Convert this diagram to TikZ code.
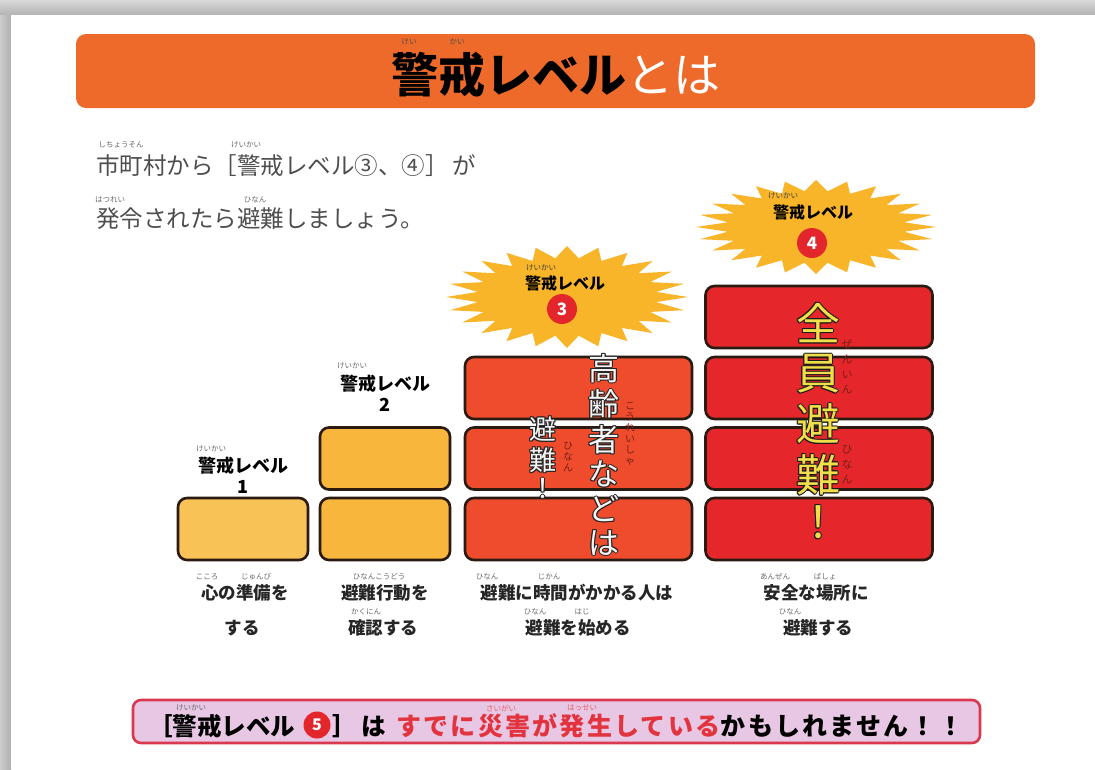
\documentclass[tikz,border=0pt]{standalone}
\usepackage{fontspec}
\setmainfont{Noto Sans CJK JP}
\definecolor{titleor}{HTML}{EE6A2B}
\definecolor{lvone}{HTML}{F9C257}
\definecolor{lvtwo}{HTML}{F8B63C}
\definecolor{lvthree}{HTML}{EE4C2D}
\definecolor{lvfour}{HTML}{E5272B}
\definecolor{boxline}{HTML}{2B1A12}
\definecolor{starc}{HTML}{F8B52A}
\definecolor{circred}{HTML}{E3262B}
\definecolor{bodygray}{HTML}{4E4E4E}
\definecolor{rubygray}{HTML}{6A6A6A}
\definecolor{bannerfill}{HTML}{E8C7E4}
\definecolor{bannerline}{HTML}{D9384E}
\definecolor{warnred}{HTML}{E2343F}
\definecolor{yel}{HTML}{F1DE4B}
\definecolor{rubyred}{HTML}{7A1E14}
\newcommand\olcopy[4]{\rlap{\hspace*{#1}\raisebox{#2}{\color{#3}#4}}}
\newcommand\outlined[3]{%
 \olcopy{1pt}{0pt}{#1}{#3}\olcopy{-1pt}{0pt}{#1}{#3}%
 \olcopy{0pt}{1pt}{#1}{#3}\olcopy{0pt}{-1pt}{#1}{#3}%
 \olcopy{.7pt}{.7pt}{#1}{#3}\olcopy{-.7pt}{.7pt}{#1}{#3}%
 \olcopy{.7pt}{-.7pt}{#1}{#3}\olcopy{-.7pt}{-.7pt}{#1}{#3}%
 {\color{#2}#3}}
% burst: cx cy rx-outer ry-outer rx-inner ry-inner
\newcommand\mkburst[6]{%
 \gdef\burstlist{}%
 \foreach \k in {0,...,47}{%
   \pgfmathsetmacro\bsel{(1+cos(\k*180))/2}%
   \pgfmathsetmacro\bx{#1+(#3*\bsel+#5*(1-\bsel))*cos(\k*7.5)}%
   \pgfmathsetmacro\by{#2+(#4*\bsel+#6*(1-\bsel))*sin(\k*7.5)}%
   \xdef\burstlist{\burstlist(\bx,\by)}}%
 \fill[starfill] plot coordinates {\burstlist} -- cycle;}
\tikzset{
  lvbox/.style={draw=boxline, line width=2.6pt, rounded corners=9pt, minimum height=62pt, inner sep=0pt},
  narrowbox/.style={lvbox, minimum width=130pt},
  widebox/.style={lvbox, minimum width=227pt},
  ruby/.style={font=\fontsize{7.5}{8}\selectfont, text=rubygray, inner sep=0pt},
  lvlabel/.style={font=\fontsize{18}{21}\selectfont\bfseries, align=center, inner sep=0pt},
  desc/.style={font=\fontsize{17.5}{20}\selectfont\bfseries, inner sep=0pt, text=black!85},
  bodytext/.style={font=\fontsize{23.5}{26}\selectfont, text=bodygray, inner sep=0pt, anchor=west},
  starfill/.style={fill=starc},
  numcirc/.style={circle, fill=circred, minimum size=30pt, inner sep=0pt, text=white, font=\fontsize{17}{18}\selectfont\bfseries},
  bantext/.style={font=\fontsize{24.5}{26}\selectfont\bfseries, inner sep=0pt, anchor=west},
  banwide/.style={font=\fontsize{25}{26}\selectfont\bfseries\addfontfeature{LetterSpace=9}, inner sep=0pt, anchor=west}
}
\begin{document}
\begin{tikzpicture}[x=1pt,y=-1pt]
\useasboundingbox (0,0) rectangle (1095,769);
% frame
\fill[gray!55] (0,0) rectangle (1095,769);
\shade[top color=gray!30, bottom color=gray!60] (0,0) rectangle (1095,15);
\shade[left color=gray!40, right color=gray!62] (0,15) rectangle (11,769);
\fill[white] (11,15) rectangle (1095,769);
% title
\node[fill=titleor, rounded corners=10pt, minimum width=959pt, minimum height=74pt, inner sep=0pt] (title) at (555.5,71) {};
\node[font=\fontsize{47}{50}\selectfont\bfseries, inner sep=0pt] (titletxt) at (556,75) {警戒レベル\textcolor{white}{\mdseries とは}};
\node[ruby, text=black!70] (rt1) at (409,42) {けい};
\node[ruby, text=black!70] (rt2) at (457,42) {かい};
% body text
\node[bodytext] (l1) at (96,166) {市町村から［警戒レベル③、④］\hspace{4pt}が};
\node[bodytext] (l2) at (96,219) {発令されたら避難しましょう。};
\node[ruby] (rb1) at (121,145) {しちょうそん};
\node[ruby] (rb2) at (246,145) {けいかい};
\node[ruby] (rb3) at (110,200) {はつれい};
\node[ruby] (rb4) at (255,200) {ひなん};
% stars
\coordinate (st3) at (567,297);
\coordinate (st4) at (816,227);
\mkburst{567}{297}{121}{51}{90}{39}
\mkburst{816}{227}{120}{47}{89}{36}
\node[font=\fontsize{16}{18}\selectfont\bfseries, inner sep=0pt] (s3t) at (565,283) {警戒レベル};
\node[numcirc] (c3) at (562,309) {3};
\node[ruby, text=black!75] (rs3) at (541,268) {けいかい};
\node[font=\fontsize{16}{18}\selectfont\bfseries, inner sep=0pt] (s4t) at (813,212) {警戒レベル};
\node[numcirc] (c4) at (812,243) {4};
\node[ruby, text=black!75] (rs4) at (783,196) {けいかい};
% level labels
\node[lvlabel] (lab1) at (243,475) {警戒レベル\\1};
\node[ruby] (rl1) at (211,449) {けいかい};
\node[lvlabel] (lab2) at (385,393) {警戒レベル\\2};
\node[ruby] (rl2) at (352,366) {けいかい};
% boxes
\node[narrowbox, fill=lvone] (b1a) at (243,529) {};
\node[narrowbox, fill=lvtwo] (b2a) at (385,529) {};
\node[narrowbox, fill=lvtwo] (b2b) at (385,458.5) {};
\node[widebox, fill=lvthree] (b3a) at (578.5,529) {};
\node[widebox, fill=lvthree] (b3b) at (578.5,458.5) {};
\node[widebox, fill=lvthree] (b3c) at (578.5,388) {};
\node[widebox, fill=lvfour] (b4a) at (819,529) {};
\node[widebox, fill=lvfour] (b4b) at (819,458.5) {};
\node[widebox, fill=lvfour] (b4c) at (819,388) {};
\node[widebox, fill=lvfour] (b4d) at (819,317) {};
% vertical texts
\node[inner sep=0pt, font=\fontsize{31}{32}\selectfont] (v3a) at (604,459)
  {\outlined{black!85}{white!92!gray}{\begin{tabular}{@{}c@{}}高\\齢\\者\\な\\ど\\は\end{tabular}}};
\node[inner sep=0pt, font=\fontsize{27}{28}\selectfont] (v3b) at (543,462)
  {\outlined{black!85}{white!92!gray}{\begin{tabular}{@{}c@{}}避\\難\\！\end{tabular}}};
\node[inner sep=0pt, font=\fontsize{10}{11}\selectfont, text=rubyred, align=center] (rv3a) at (630,434) {こ\\う\\れ\\い\\し\\ゃ};
\node[inner sep=0pt, font=\fontsize{10}{11}\selectfont, text=rubyred, align=center] (rv3b) at (568,457) {ひ\\な\\ん};
\node[inner sep=0pt, font=\fontsize{44}{46.5}\selectfont] (v4) at (818,428)
  {\outlined{black!90}{yel}{\begin{tabular}{@{}c@{}}全\\員\\避\\難\\！\end{tabular}}};
\node[inner sep=0pt, font=\fontsize{11}{15}\selectfont, text=rubyred, align=center] (rv4a) at (847,367) {ぜ\\ん\\い\\ん};
\node[inner sep=0pt, font=\fontsize{11}{15}\selectfont, text=rubyred, align=center] (rv4b) at (847,465) {ひ\\な\\ん};
% descriptions
\node[desc] (d1a) at (245,593) {心の準備を};
\node[desc] (d1b) at (242,628) {する};
\node[ruby] (rd1a) at (207,577) {こころ};
\node[ruby] (rd1b) at (256,577) {じゅんび};
\node[desc] (d2a) at (385,593) {避難行動を};
\node[desc] (d2b) at (383,628) {確認する};
\node[ruby] (rd2a) at (379,577) {ひなんこうどう};
\node[ruby] (rd2b) at (366,612) {かくにん};
\node[desc] (d3a) at (577,593) {避難に時間がかかる人は};
\node[desc] (d3b) at (578,628) {避難を始める};
\node[ruby] (rd3a) at (487,577) {ひなん};
\node[ruby] (rd3b) at (549,577) {じかん};
\node[ruby] (rd3c) at (535,612) {ひなん};
\node[ruby] (rd3d) at (582,612) {はじ};
\node[desc] (d4a) at (816,593) {安全な場所に};
\node[desc] (d4b) at (818,628) {避難する};
\node[ruby] (rd4a) at (775,577) {あんぜん};
\node[ruby] (rd4b) at (825,577) {ばしょ};
\node[ruby] (rd4c) at (790,612) {ひなん};
% banner
\node[fill=bannerfill, draw=bannerline, line width=2.6pt, rounded corners=8pt, minimum width=847pt, minimum height=43pt, inner sep=0pt] (banner) at (556.5,721.5) {};
\node[bantext] (bn1) at (148,726) {［警戒レベル};
\node[circle, fill=circred, minimum size=27pt, inner sep=0pt, text=white, font=\fontsize{16}{17}\selectfont\bfseries] (bn5) at (317,725) {5};
\node[bantext] (bn2) at (332,726) {］\hspace{5pt}は};
\node[banwide, text=warnred] (bn3) at (396,726) {すでに災害が発生している};
\node[banwide] (bn4) at (bn3.east) {かもしれません！！};
\node[ruby] (rbn1) at (191,708) {けいかい};
\node[ruby, text=warnred!80] (rbn2) at (501,708) {さいがい};
\node[ruby, text=warnred!80] (rbn3) at (582,708) {はっせい};
\end{tikzpicture}
\end{document}
